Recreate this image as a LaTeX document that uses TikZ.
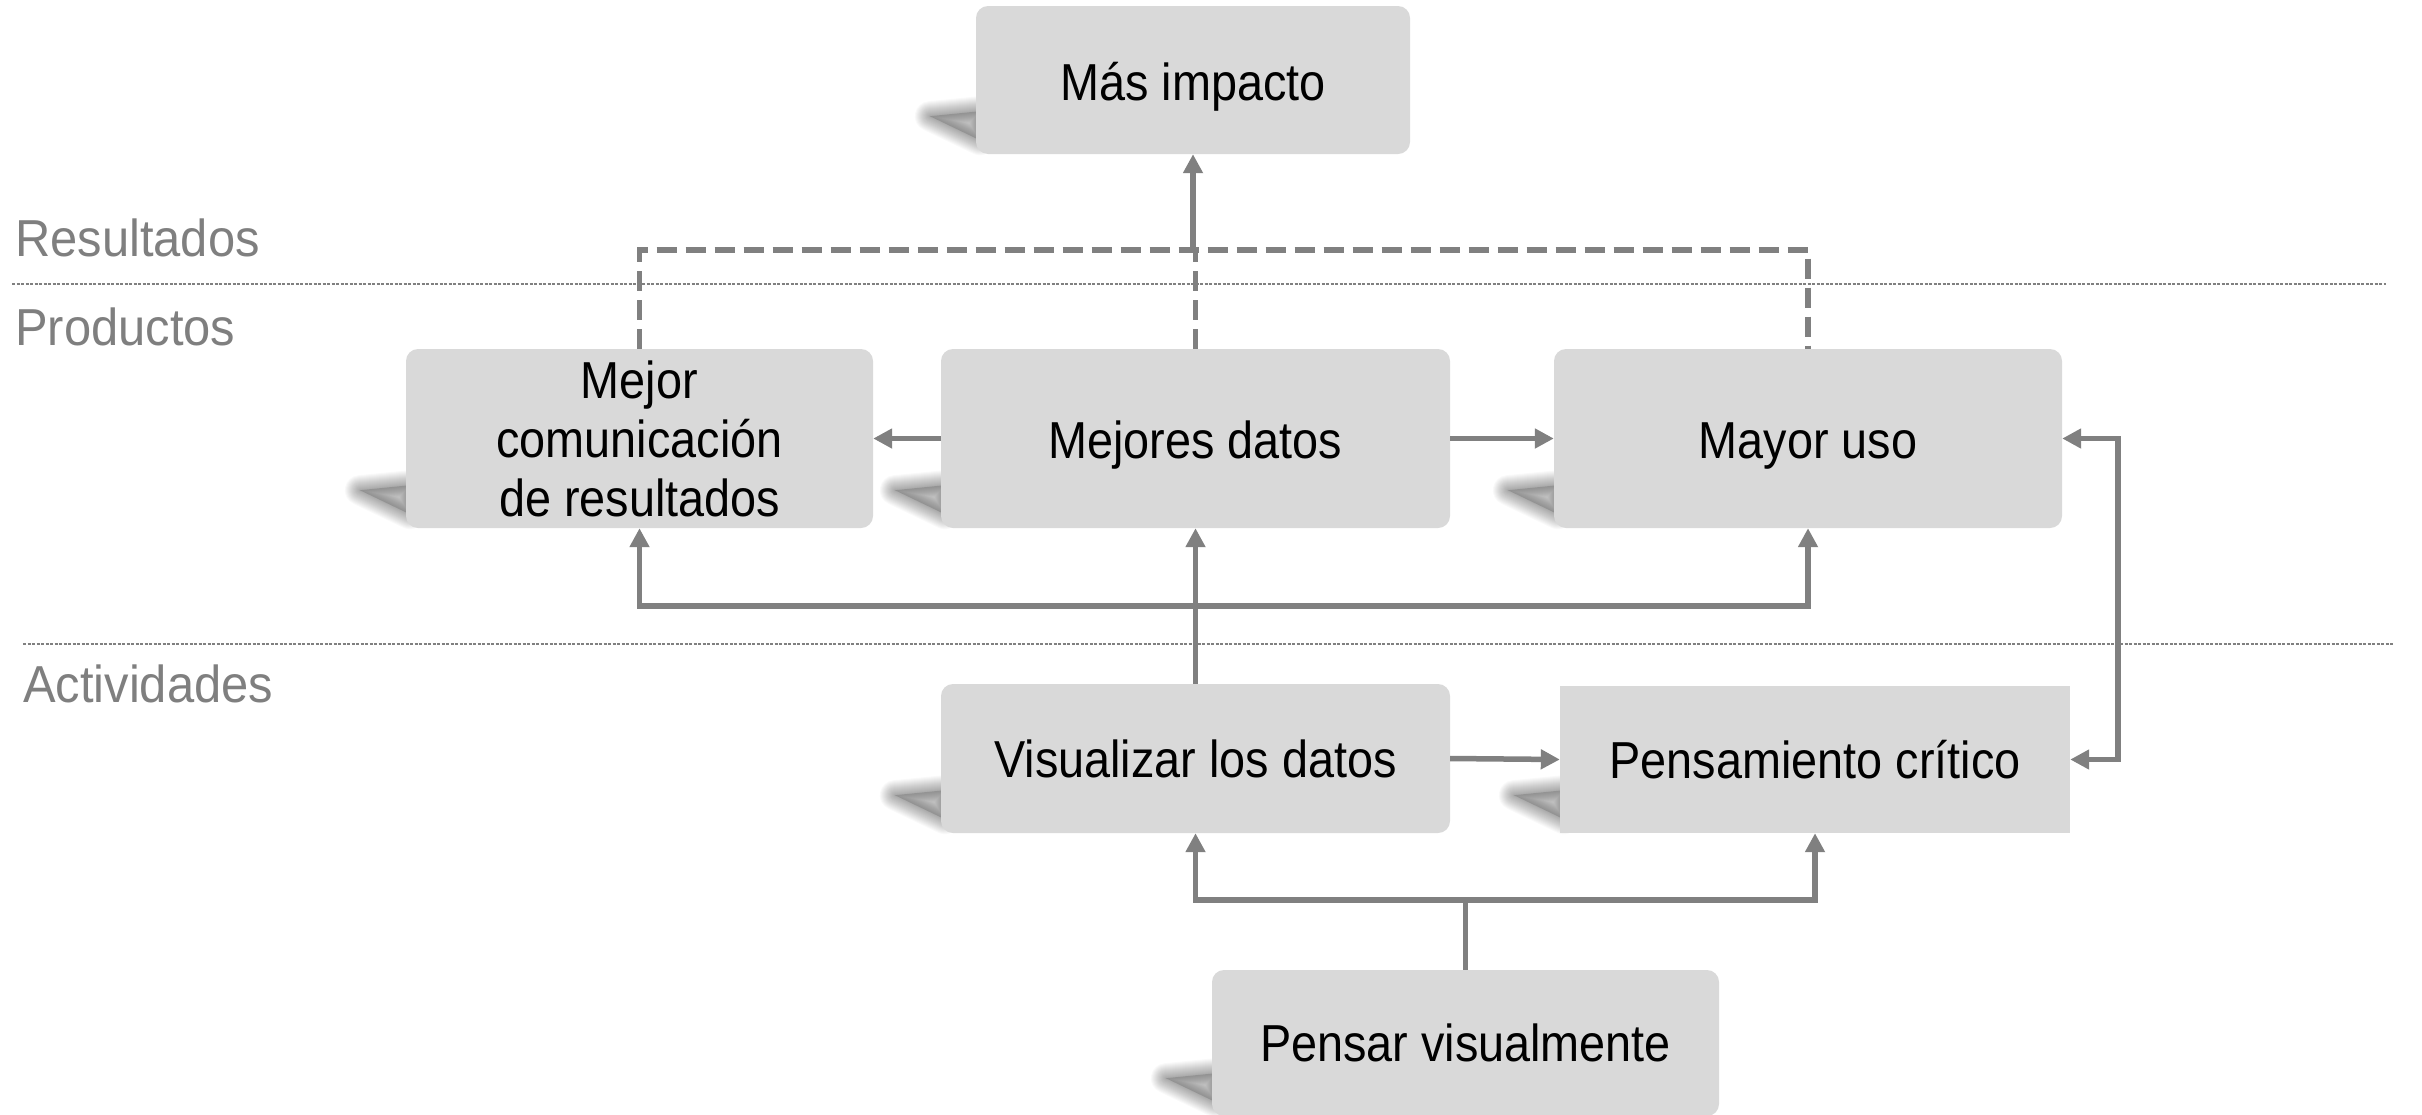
\documentclass[tikz,border=0pt]{standalone}
\usepackage{fontspec}
\setmainfont{Liberation Sans}[FakeStretch=0.9]
\newfontfamily\lanefont{Liberation Sans}[FakeStretch=0.94]
\usetikzlibrary{arrows.meta,backgrounds,calc}
\definecolor{boxfill}{HTML}{D9D9D9}
\definecolor{linegray}{HTML}{808080}
\definecolor{labelgray}{HTML}{7F7F7F}
\tikzset{
 box/.style={fill=boxfill, rounded corners=12pt, inner sep=0pt, align=center, font=\fontsize{52}{59}\selectfont, text=black},
 sqbox/.style={box, sharp corners},
 low/.style={text height=40pt, text depth=0pt},
 conn/.style={draw=linegray, line width=5.5pt},
 tip/.tip={Triangle[length=19pt,width=19pt]},
 arr/.style={conn, -tip},
 dconn/.style={conn, line width=5.5pt, dash pattern=on 20pt off 9pt},
 sep/.style={draw=linegray, line width=1.2pt, dash pattern=on 3pt off 1.5pt},
 lane/.style={anchor=west, text=labelgray, font=\lanefont\fontsize{52}{59}\selectfont, inner sep=0pt},
 shadline/.style={draw=black, draw opacity=0.024, line join=round},
}
\begin{document}
\begin{tikzpicture}[x=1pt,y=-1pt]
\useasboundingbox (0,0) rectangle (2422,1114);
% boxes
\node[box, low, minimum width=434pt, minimum height=148pt] (MI) at (1193,80) {Más impacto};
\node[box, minimum width=467pt, minimum height=179pt] (MC) at (639.5,438.5) {Mejor\\comunicación\\de resultados};
\node[box, low, minimum width=509pt, minimum height=179pt] (MD) at (1195.5,438.5) {Mejores datos};
\node[box, low, minimum width=508pt, minimum height=179pt] (MU) at (1808,438.5) {Mayor uso};
\node[box, minimum width=509pt, minimum height=149pt] (VD) at (1195.5,758.5) {Visualizar los datos};
\node[sqbox, minimum width=510pt, minimum height=147pt] (PC) at (1815,759.5) {Pensamiento crítico};
\node[box, minimum width=507pt, minimum height=146pt] (PV) at (1465.5,1043) {Pensar visualmente};
% lane labels
\node[lane] (lr) at (15,238) {Resultados};
\node[lane] (lp) at (15,327) {Productos};
\node[lane] (la) at (23,684) {Actividades};
% separators
\coordinate (s1a) at (12,284); \coordinate (s1b) at (2386,284);
\coordinate (s2a) at (23,644); \coordinate (s2b) at (2394,644);
\draw[sep] (s1a) -- (s1b);
\draw[sep] (s2a) -- (s2b);
% connectors
\coordinate (dtop) at (1193,250);
\draw[dconn] (MC.north) -- (MC.north |- dtop) -- (MU.north |- dtop) -- (MU.north);
\draw[dconn] (MD.north) -- (MD.north |- dtop);
\draw[arr] (MI.south |- dtop) -- (MI.south);
\draw[arr] (MD.west) -- (MC.east);
\draw[arr] (MD.east) -- (MU.west);
\coordinate (pbar) at (1195.5,606);
\draw[arr] (VD.north) -- (MD.south);
\draw[arr] (pbar) -| (MC.south);
\draw[arr] (pbar) -| (MU.south);
\draw[arr] (VD.east) -- (PC.west);
\coordinate (rb) at (2118,600);
\draw[conn, tip-tip] (PC.east) -- (PC.east -| rb) -- (MU.east -| rb) -- (MU.east);
\coordinate (vbar) at (1465.5,900);
\draw[conn] (PV.north) -- (PV.north |- vbar);
\draw[arr] (PV.north |- vbar) -| (VD.south);
\draw[arr] (PV.north |- vbar) -| (PC.south);
% shadows
\begin{scope}[on background layer]
\fill[white] (0,0) rectangle (2422,1114);
\foreach \n in {MI,MC,MD,MU,VD,PC,PV}{
 \fill[black, fill opacity=0.14] ($(\n.south west)+(-46,-38)$) -- ($(\n.south west)+(4,-43)$) -- ($(\n.south west)+(4,-14)$) -- cycle;
 \foreach \w in {30,28,...,2}{
  \draw[shadline, line width=\w pt] ($(\n.south west)+(-46,-38)$) -- ($(\n.south west)+(4,-43)$) -- ($(\n.south west)+(4,-14)$) -- cycle;
 }
}
\end{scope}
\end{tikzpicture}
\end{document}
